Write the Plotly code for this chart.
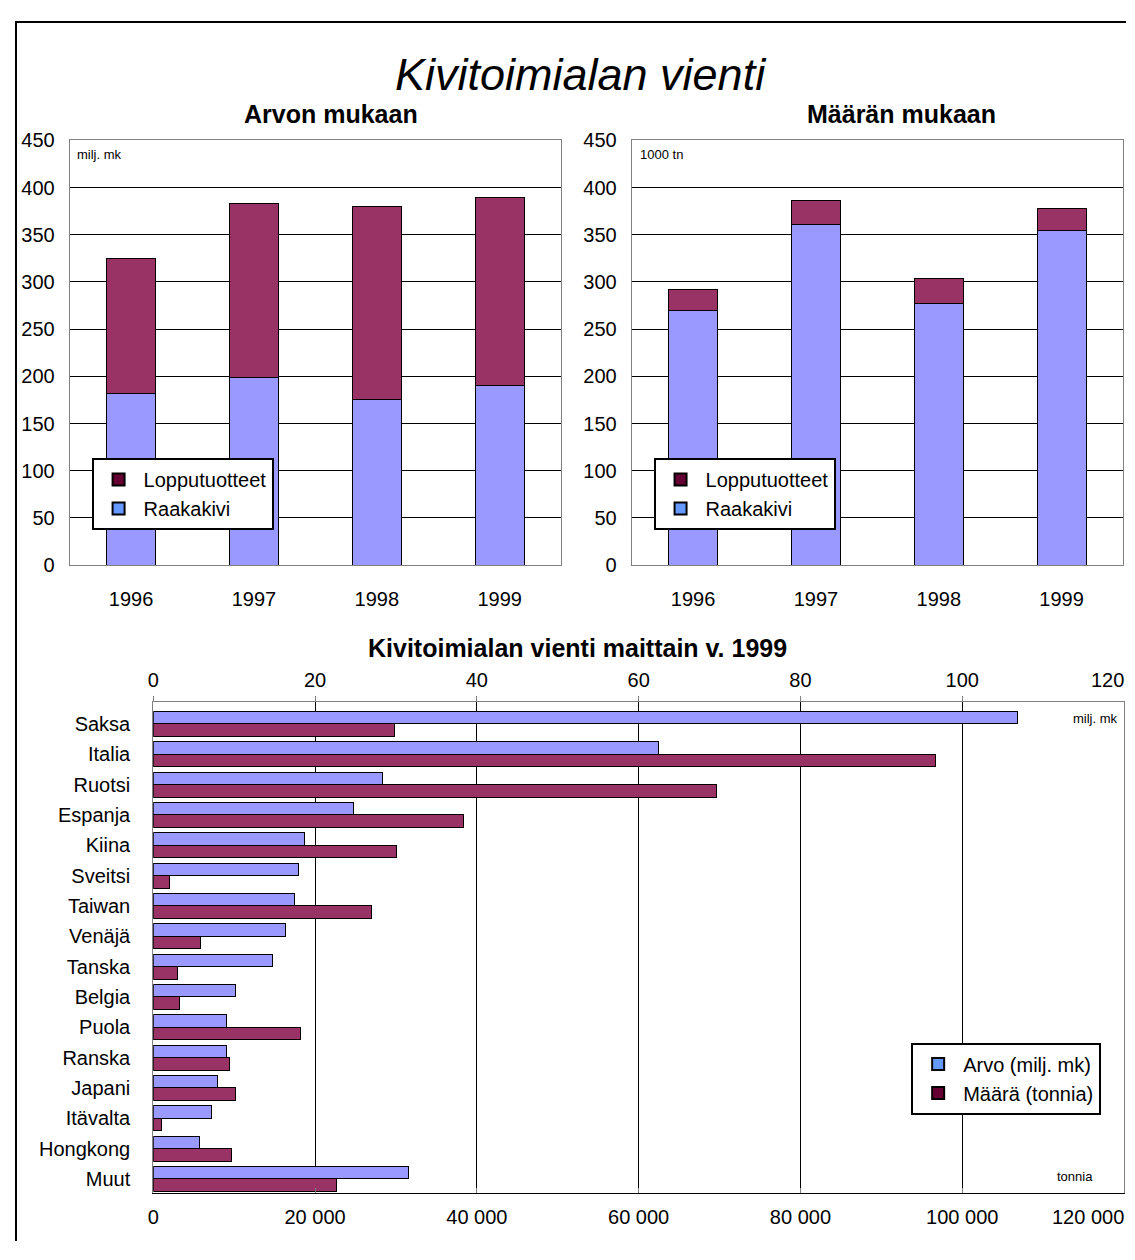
import plotly.graph_objects as go

# ---------------- data ----------------
years = ["1996", "1997", "1998", "1999"]
series_names = ["Lopputuotteet", "Raakakivi"]
arvo_raakakivi = [182, 199, 176, 190]          # milj. mk
arvo_lopputuotteet = [143, 184, 204, 199]      # milj. mk
maara_raakakivi = [270, 361, 277, 354]         # 1000 tn
maara_lopputuotteet = [22, 25, 27, 24]         # 1000 tn

maat = ["Saksa", "Italia", "Ruotsi", "Espanja", "Kiina", "Sveitsi", "Taiwan",
        "Venäjä", "Tanska", "Belgia", "Puola", "Ranska", "Japani", "Itävalta",
        "Hongkong", "Muut"]
arvo_milj_mk = [106.8, 62.5, 28.3, 24.7, 18.7, 18.0, 17.4, 16.4, 14.8, 10.2,
                9.1, 9.0, 7.9, 7.2, 5.7, 31.5]
maara_tonnia = [29800, 96700, 69600, 38300, 30100, 2000, 27000, 5900, 3000,
                3300, 18200, 9400, 10200, 1000, 9700, 22600]
maa_series = ["Arvo (milj. mk)", "Määrä (tonnia)"]

top_ticks = [0, 50, 100, 150, 200, 250, 300, 350, 400, 450]
mk_ticks = [0, 20, 40, 60, 80, 100, 120]
mk_ticktext = ["0", "20", "40", "60", "80", "100", "120"]
tn_ticks = [0, 20000, 40000, 60000, 80000, 100000, 120000]
tn_ticktext = ["0", "20 000", "40 000", "60 000", "80 000", "100 000", "120 000"]

# ---------------- style ----------------
PAGE_W, PAGE_H = 1135, 1260
OFF = 8                       # default body margin of the html page
W, H = PAGE_W - 2 * OFF, PAGE_H - 2 * OFF
FONT = "Liberation Sans, Arial, sans-serif"
BLUE = "#9999FF"
MAROON = "#993366"
LEG_BLUE = "#6699FF"
LEG_MAROON = "#660033"
GRID = "#000000"
FRAME = "#808080"


def px(x):
    """page pixel x -> paper coordinate"""
    return (x - OFF) / W


def py(y):
    """page pixel y -> paper coordinate"""
    return 1 - (y - OFF) / H


fig = go.Figure()

bar_line = dict(color="black", width=1)
# ---- top-left: Arvon mukaan ----
fig.add_trace(go.Bar(x=years, y=arvo_raakakivi, name=series_names[1],
                     marker=dict(color=BLUE, line=bar_line),
                     xaxis="x", yaxis="y", showlegend=False))
fig.add_trace(go.Bar(x=years, y=arvo_lopputuotteet, name=series_names[0],
                     marker=dict(color=MAROON, line=bar_line),
                     xaxis="x", yaxis="y", showlegend=False))
# ---- top-right: Määrän mukaan ----
fig.add_trace(go.Bar(x=years, y=maara_raakakivi, name=series_names[1],
                     marker=dict(color=BLUE, line=bar_line),
                     xaxis="x2", yaxis="y2", showlegend=False))
fig.add_trace(go.Bar(x=years, y=maara_lopputuotteet, name=series_names[0],
                     marker=dict(color=MAROON, line=bar_line),
                     xaxis="x2", yaxis="y2", showlegend=False))
# ---- bottom: maittain ----
fig.add_trace(go.Bar(y=maat, x=arvo_milj_mk, orientation="h", name=maa_series[0],
                     marker=dict(color=BLUE, line=bar_line),
                     width=0.41, offset=-0.41,
                     xaxis="x3", yaxis="y3", showlegend=False))
fig.add_trace(go.Bar(y=maat, x=maara_tonnia, orientation="h", name=maa_series[1],
                     marker=dict(color=MAROON, line=bar_line),
                     width=0.41, offset=0,
                     xaxis="x4", yaxis="y3", showlegend=False))


# ---- legend entries (Excel-style legend colours) ----
def leg(name, color, xa, ya, legend):
    fig.add_trace(go.Scatter(x=[None], y=[None], mode="markers", name=name,
                             marker=dict(symbol="square", size=15, color=color,
                                         line=dict(color="black", width=1.5)),
                             xaxis=xa, yaxis=ya, legend=legend, showlegend=True))


leg(series_names[0], LEG_MAROON, "x", "y", "legend")
leg(series_names[1], LEG_BLUE, "x", "y", "legend")
leg(series_names[0], LEG_MAROON, "x2", "y2", "legend2")
leg(series_names[1], LEG_BLUE, "x2", "y2", "legend2")
leg(maa_series[0], LEG_BLUE, "x3", "y3", "legend3")
leg(maa_series[1], LEG_MAROON, "x3", "y3", "legend3")

tickfont = dict(family=FONT, size=20, color="black")

common_x = dict(type="category", showgrid=False, showline=True, mirror=True,
                linecolor=FRAME, linewidth=1, ticks="", tickfont=tickfont,
                ticklabelstandoff=16, zeroline=False)
common_y = dict(range=[0, 450], tickvals=top_ticks, showgrid=True, gridcolor=GRID,
                gridwidth=1, showline=True, mirror=True, linecolor=FRAME,
                linewidth=1, ticks="", tickfont=tickfont, ticklabelstandoff=10,
                zeroline=False)

ydom_top = [py(564), py(131.5)]

legend_common = dict(bgcolor="white", bordercolor="black", borderwidth=2,
                     font=dict(family=FONT, size=20, color="black"),
                     xanchor="left", yanchor="top", itemsizing="constant",
                     itemwidth=40, traceorder="normal", tracegroupgap=0)

fig.update_layout(
    width=W, height=H,
    margin=dict(l=0, r=0, t=0, b=0),
    paper_bgcolor="white", plot_bgcolor="white",
    font=dict(family=FONT, color="black"),
    barmode="stack",
    bargap=0.6,
    xaxis=dict(common_x, domain=[px(64), px(558)], anchor="y"),
    yaxis=dict(common_y, domain=ydom_top, anchor="x"),
    xaxis2=dict(common_x, domain=[px(629), px(1123)], anchor="y2"),
    yaxis2=dict(common_y, domain=ydom_top, anchor="x2"),
    # top axis: labels 0..100 (the last one is placed as a note below)
    xaxis3=dict(domain=[px(148), px(1124)], anchor="y3", side="top",
                range=[0, 120], tickvals=mk_ticks[:-1], ticktext=mk_ticktext[:-1],
                showgrid=True, gridcolor=GRID,
                gridwidth=1, showline=True, linecolor=FRAME, linewidth=1,
                ticks="outside", ticklen=5, tickcolor=FRAME, tickfont=tickfont,
                ticklabelstandoff=1, zeroline=False),
    xaxis4=dict(overlaying="x3", anchor="y3", side="bottom",
                range=[0, 120000], tickvals=tn_ticks[:-1],
                ticktext=tn_ticktext[:-1],
                showgrid=False, showline=True, linecolor="black", linewidth=1,
                ticks="inside", ticklen=5, tickcolor=FRAME, tickfont=tickfont,
                ticklabelstandoff=6, zeroline=False),
    yaxis3=dict(domain=[py(1203), py(703)], anchor="x3", type="category",
                range=[15.46, -0.735], showgrid=False, showline=True,
                mirror=True, linecolor=FRAME, linewidth=1, ticks="",
                tickfont=tickfont, ticklabelstandoff=18, zeroline=False),
    legend=dict(legend_common, x=px(86), y=py(455)),
    legend2=dict(legend_common, x=px(651), y=py(455)),
    legend3=dict(legend_common, x=px(910), y=py(1050)),
    showlegend=True,
)

ann = []
ann.append(dict(text="Kivitoimialan vienti", x=px(578), y=py(65), xref="paper",
                yref="paper", showarrow=False, xanchor="center", yanchor="middle",
                font=dict(family=FONT, size=45, style="italic", color="black")))
ann.append(dict(text="<b>Arvon mukaan</b>", x=px(327), y=py(105), xref="paper",
                yref="paper", showarrow=False, xanchor="center", yanchor="middle",
                font=dict(family=FONT, size=25, color="black")))
ann.append(dict(text="<b>Määrän mukaan</b>", x=px(900), y=py(105), xref="paper",
                yref="paper", showarrow=False, xanchor="center", yanchor="middle",
                font=dict(family=FONT, size=25, color="black")))
ann.append(dict(text="<b>Kivitoimialan vienti maittain v. 1999</b>", x=px(575),
                y=py(648), xref="paper", yref="paper", showarrow=False,
                xanchor="center", yanchor="middle",
                font=dict(family=FONT, size=25, color="black")))
small = dict(family=FONT, size=13, color="black")
ann.append(dict(text="milj. mk", x=px(69), y=py(146), xref="paper", yref="paper",
                showarrow=False, xanchor="left", yanchor="middle", font=small))
ann.append(dict(text="1000 tn", x=px(635), y=py(146), xref="paper", yref="paper",
                showarrow=False, xanchor="left", yanchor="middle", font=small))
ann.append(dict(text="milj. mk", x=px(1120), y=py(720), xref="paper", yref="paper",
                showarrow=False, xanchor="right", yanchor="middle", font=small))
ann.append(dict(text="tonnia", x=px(1095), y=py(1186), xref="paper", yref="paper",
                showarrow=False, xanchor="right", yanchor="middle", font=small))
# last tick labels at the right edge, kept inside the figure
ann.append(dict(text=mk_ticktext[-1], x=px(1126), y=py(681), xref="paper",
                yref="paper", showarrow=False, xanchor="right", yanchor="middle",
                font=tickfont))
ann.append(dict(text=tn_ticktext[-1], x=px(1126), y=py(1228), xref="paper",
                yref="paper", showarrow=False, xanchor="right", yanchor="middle",
                font=tickfont))
fig.update_layout(annotations=ann)

# outer frame of the whole picture (left and top edges, kept inside the figure)
x0, y0, x1, y1 = px(10), py(11), px(1126), py(1252)
fig.add_shape(type="path", xref="paper", yref="paper",
              path=f"M {x0},{y1} L {x0},{y0} L {x1},{y0}",
              line=dict(color="black", width=2), layer="above")

fig.write_html("out.html", config={"displayModeBar": False})
